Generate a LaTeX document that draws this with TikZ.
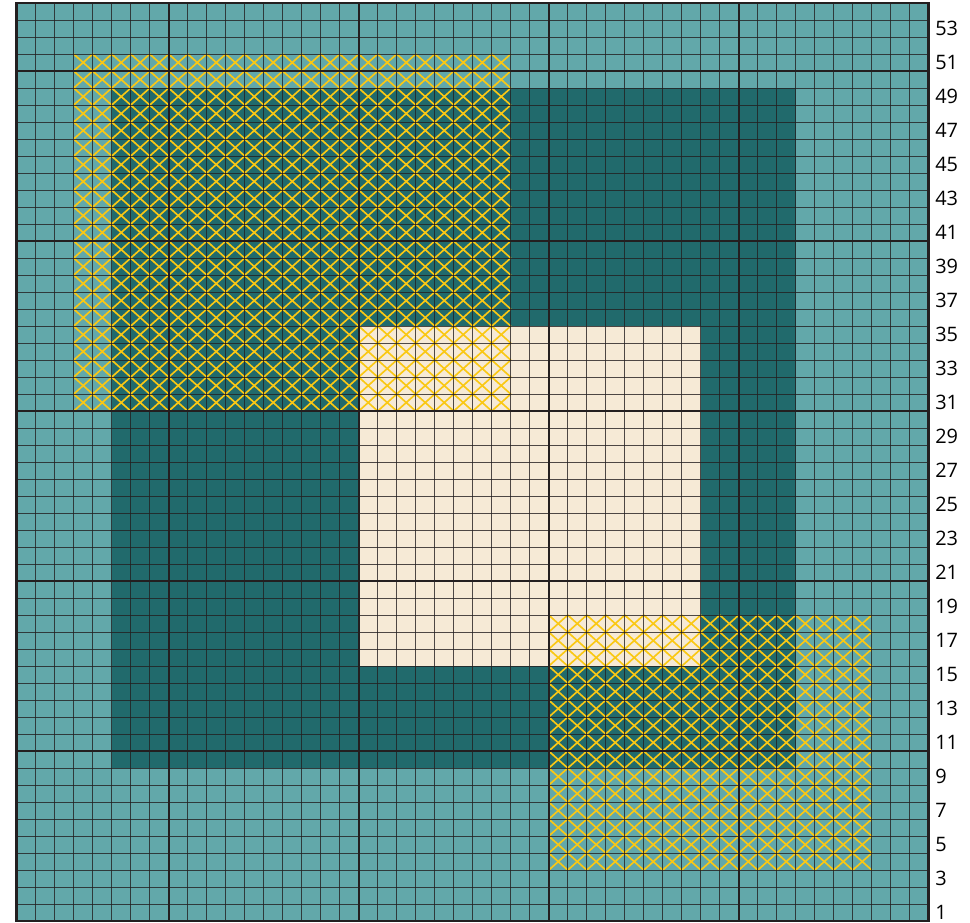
\documentclass[tikz,border=0pt]{standalone}
\usepackage{fontspec}
\setmainfont{Open Sans}
\usetikzlibrary{positioning}
\definecolor{tealLight}{RGB}{98,168,170}
\definecolor{tealDark}{RGB}{33,106,108}
\definecolor{cream}{RGB}{246,234,214}
\definecolor{stitchYellow}{RGB}{250,200,20}
\definecolor{gridLine}{RGB}{35,31,32}
\tikzset{
  gridthin/.style={
    draw=gridLine,
    draw opacity=0.8,
    line width=0.9pt
  },
  gridthick/.style={
    draw=gridLine,
    line width=1.7pt
  },
  gridframe/.style={
    draw=gridLine,
    line width=2.2pt
  },
  stitch/.style={
    draw=stitchYellow,
    line width=1.4pt
  },
  rowlabel/.style={
    anchor=west,
    inner sep=0pt,
    font=\fontsize{17}{17}\selectfont
  }
}
\begin{document}
\begin{tikzpicture}[x=0.57cm, y=0.51cm]
\useasboundingbox (-0.879,-0.059) rectangle (50.17,54.18);

% --- Blocks of colour ---
\fill[tealLight] (0,0) rectangle (48,54);
\fill[tealDark] (5,9) rectangle (41,49);
\fill[cream] (18,15) rectangle (36,35);

% --- Cross stitches, upper left ---
\foreach \i in {3,...,25}
  \foreach \j in {30,...,50}
    \draw[stitch] (\i,\j) -- ++(1,1) (\i+1,\j) -- ++(-1,1);

% --- Cross stitches, lower right ---
\foreach \i in {28,...,44}
  \foreach \j in {3,...,17}
    \draw[stitch] (\i,\j) -- ++(1,1) (\i+1,\j) -- ++(-1,1);

% --- Grid ---
\foreach \i in {1,...,47}
  \draw[gridthin] (\i,0) -- (\i,54);
\foreach \j in {1,...,53}
  \draw[gridthin] (0,\j) -- (48,\j);
\foreach \i in {8,18,28,38}
  \draw[gridthick] (\i,0) -- (\i,54);
\foreach \j in {10,20,30,40,50}
  \draw[gridthick] (0,\j) -- (48,\j);
\draw[gridframe] (0,0) rectangle (48,54);

% --- Row numbers ---
\foreach \n in {1,3,...,53}
  \node[rowlabel] (row\n) at (48.33,\n-0.5) {\n};

\end{tikzpicture}
\end{document}
